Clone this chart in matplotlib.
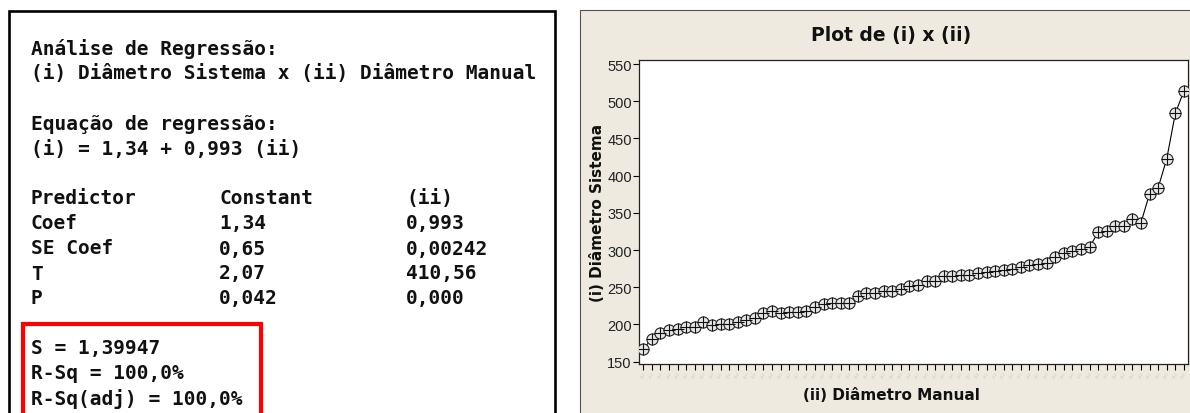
import numpy as np
import matplotlib
matplotlib.use("Agg")
import matplotlib.pyplot as plt
from matplotlib.patches import Rectangle

# --- data ---
sistema = [167, 181, 188, 192, 194, 197, 197, 203, 199, 201, 201, 204, 206, 209, 216, 218,
           216, 217, 217, 218, 224, 227, 229, 229, 229, 238, 242, 242, 245, 245, 248, 252,
           253, 258, 259, 265, 265, 267, 267, 269, 271, 272, 273, 275, 277, 280, 281, 283,
           291, 296, 299, 302, 304, 324, 325, 332, 332, 342, 337, 376, 384, 423, 484, 514]
y_ticks = [150, 200, 250, 300, 350, 400, 450, 500, 550]

header_lines = ["Análise de Regressão:",
                "(i) Diâmetro Sistema x (ii) Diâmetro Manual",
                "",
                "Equação de regressão:",
                "(i) = 1,34 + 0,993 (ii)"]
table_rows = [["Predictor", "Constant", "(ii)"],
              ["Coef", "1,34", "0,993"],
              ["SE Coef", "0,65", "0,00242"],
              ["T", "2,07", "410,56"],
              ["P", "0,042", "0,000"]]
summary_lines = ["S = 1,39947", "R-Sq = 100,0%", "R-Sq(adj) = 100,0%"]

W, H = 1190, 414
fig = plt.figure(figsize=(W / 100, H / 100), dpi=100)


def fx(px):
    return px / W


def fy(py):
    return 1 - py / H


# --- left panel: regression output ---
fig.patches.append(Rectangle((fx(9), fy(430)), fx(546), fy(12) - fy(430), transform=fig.transFigure,
                             fill=False, edgecolor="black", linewidth=1.9))
fig.patches.append(Rectangle((fx(23), fy(430)), fx(238), fy(325) - fy(430), transform=fig.transFigure,
                             fill=False, edgecolor="#ff0000", linewidth=3.0))

mono = dict(family="DejaVu Sans Mono", fontweight="bold", fontsize=14, color="#111111",
            va="center", ha="left")
line_h = 25
y0 = 49
for i, s in enumerate(header_lines):
    if s:
        fig.text(fx(31), fy(y0 + i * line_h), s, **mono)
col_x = [31, 219, 406]
for r, row in enumerate(table_rows):
    for c, s in enumerate(row):
        fig.text(fx(col_x[c]), fy(y0 + (6 + r) * line_h), s, **mono)
for i, s in enumerate(summary_lines):
    fig.text(fx(31), fy(y0 + (12 + i) * line_h), s, **mono)

# --- right panel: Minitab-style plot ---
fig.patches.append(Rectangle((fx(580), fy(430)), fx(620), fy(11) - fy(430), transform=fig.transFigure,
                             facecolor="#eeeae0", edgecolor="#555555", linewidth=0.8, zorder=0))

ax = fig.add_axes([fx(638.7), fy(365), fx(1188) - fx(638.7), fy(61) - fy(365)])
ax.set_zorder(3)
ax.set_facecolor("white")
x = np.arange(1, len(sistema) + 1)
ax.plot(x, sistema, color="black", linewidth=0.8, zorder=2)
ax.plot(x, sistema, linestyle="none", marker="o", markersize=8, markerfacecolor="#e6e6e6",
        markeredgecolor="#222222", markeredgewidth=0.8, zorder=3)
ax.plot(x, sistema, linestyle="none", marker="+", markersize=8, color="#111111",
        markeredgewidth=0.8, zorder=4)

ax.set_xlim(0.465, 64.47)
ax.set_ylim(146.9, 555.4)
ax.set_yticks(y_ticks)
ax.set_xticks(x)
ax.set_xticklabels([str(v) for v in sistema], rotation=60, fontsize=2.5, color="#cfcabd")
ax.tick_params(axis="y", length=4, width=0.8, pad=1, labelsize=10.5, labelcolor="#222222")
ax.tick_params(axis="x", length=4, width=0.8, pad=1)
for lab in ax.get_yticklabels():
    lab.set_family("Liberation Sans")
for sp in ax.spines.values():
    sp.set_linewidth(0.9)
    sp.set_color("#222222")

fig.text(fx(891), fy(36), "Plot de (i) x (ii)", ha="center", va="center",
         fontsize=13.5, fontweight="bold", family="DejaVu Sans", color="#111111")
fig.text(fx(891), fy(396), "(ii) Diâmetro Manual", ha="center", va="center",
         fontsize=11, fontweight="bold", family="DejaVu Sans", color="#111111")
fig.text(fx(597), fy(213), "(i) Diâmetro Sistema", ha="center", va="center", rotation=90,
         fontsize=11, fontweight="bold", family="DejaVu Sans", color="#111111")

fig.savefig("out.png", dpi=100)
